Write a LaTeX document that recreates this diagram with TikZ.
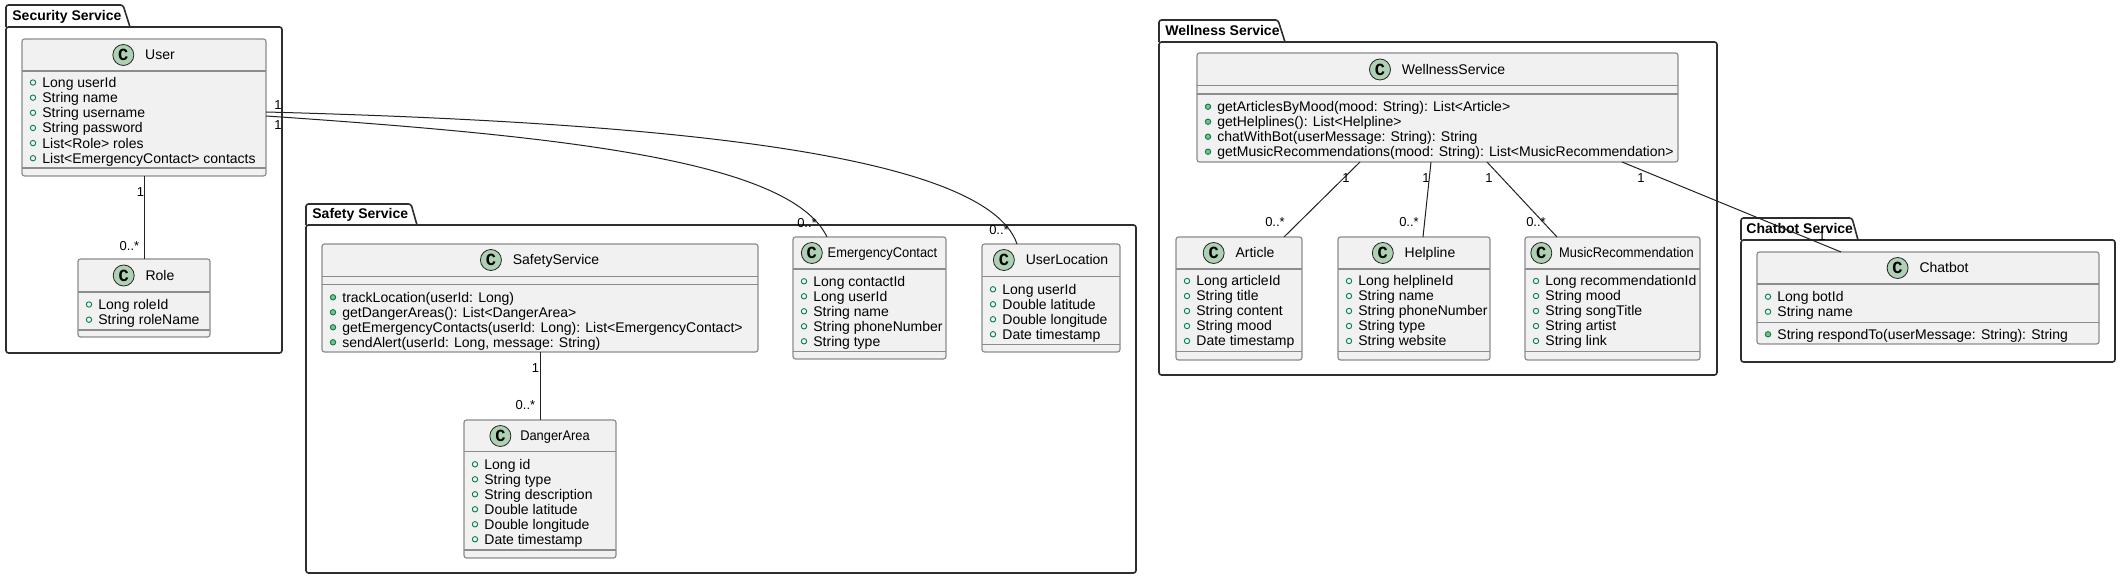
\documentclass[tikz,border=0pt]{standalone}
\usepackage{fontspec}
\setmainfont{Liberation Sans}
\newfontfamily\cfont{Liberation Mono}
\newfontfamily\condfont{Liberation Sans}[FakeStretch=0.92]
\usetikzlibrary{calc}
\definecolor{clsfill}{HTML}{F1F1F1}
\definecolor{clsdraw}{HTML}{8C8C8C}
\definecolor{cfill}{HTML}{ADD1B2}
\definecolor{visgreen}{HTML}{038048}
\definecolor{visfill}{HTML}{84BE84}
\definecolor{pkgdraw}{HTML}{2E2E2E}
\definecolor{edgecol}{HTML}{222222}
\newcounter{tn}
\tikzset{
 clsbox/.style={draw=clsdraw, fill=clsfill, line width=0.6pt, rounded corners=1.25pt, inner sep=0pt, outer sep=0pt},
 sepl/.style={draw=clsdraw, line width=0.6pt},
 mtext/.style={anchor=base west, inner sep=0pt, font=\fontsize{7}{8}\selectfont},
 hname/.style={inner sep=0pt, text height=5pt, text depth=0pt, font=\fontsize{7}{8}\selectfont},
 cball/.style={circle, draw=edgecol, fill=cfill, line width=0.4pt, minimum size=10.5pt, inner sep=0pt, font=\cfont\bfseries\fontsize{8.5}{9}\selectfont},
 pkgline/.style={draw=pkgdraw, line width=0.8pt, rounded corners=1.25pt},
 pkglabel/.style={anchor=base west, inner sep=0pt, font=\bfseries\fontsize{7}{8}\selectfont},
 conn/.style={draw=edgecol, line width=0.5pt},
 mult/.style={inner sep=0pt, text height=4.6pt, text depth=0pt, font=\fontsize{6.5}{7}\selectfont},
}
% class box: name, x1, y1, x2, y2 (pixel units)
\newcommand{\umlclass}[5]{%
 \pgfmathsetmacro{\clsW}{(#4-#2)*0.5}%
 \pgfmathsetmacro{\clsH}{(#5-#3)*0.5}%
 \node[clsbox, minimum width=\clsW pt, minimum height=\clsH pt] (#1) at ({(#2+#4)/2},{(#3+#5)/2}) {};%
}
\newcommand{\csep}[3]{\draw[sepl] (#1,#3) -- (#2,#3);}
% header: name, cx, cy, space, text
\newcommand{\hdr}[5]{%
 \node[hname] (#1) at (#2,#3) {\hspace*{#4}#5};%
 \node[cball] (#1c) at ($(#1.west)+(10.5,0)$) {C};%
}
\newcommand{\fld}[3]{%
 \stepcounter{tn}%
 \draw[visgreen, line width=0.45pt] (#1+11,#2) circle (1.35pt);%
 \node[mtext] (t\arabic{tn}) at (#1+20,#2+5) {#3};%
}
\newcommand{\mth}[3]{%
 \stepcounter{tn}%
 \draw[visgreen, fill=visfill, line width=0.45pt] (#1+11,#2) circle (1.35pt);%
 \node[mtext] (t\arabic{tn}) at (#1+20,#2+5) {#3};%
}
\newcommand{\mlab}[4]{\node[mult] (#1) at (#2,#3) {#4};}
\begin{document}
\begin{tikzpicture}[x=0.5pt,y=-0.5pt]
\useasboundingbox (0,0) rectangle (2122,581);
\fill[white] (0,0) rectangle (2122,581);

% ---------- packages ----------
\draw[pkgline] (6,27) -- (6,5) -- (123,5) -- (130,27);
\draw[pkgline] (6,27) rectangle (282,353);
\node[pkglabel] (secl) at (12,21) {Security Service};

\draw[pkgline] (306,225) -- (306,204) -- (411,204) -- (417,225);
\draw[pkgline] (306,225) rectangle (1136,573);
\node[pkglabel] (safl) at (312,219) {Safety Service};

\draw[pkgline] (1159,42) -- (1159,20) -- (1278,20) -- (1285,42);
\draw[pkgline] (1159,42) rectangle (1717,375);
\node[pkglabel] (welll) at (1165,36) {Wellness Service};

\draw[pkgline] (1741,240) -- (1741,218) -- (1852,218) -- (1858,240);
\draw[pkgline] (1741,240) rectangle (2115,362);
\node[pkglabel] (chatl) at (1746,234) {Chatbot Service};

% ---------- User ----------
\umlclass{user}{22}{39}{266}{176}
\csep{22}{266}{71}\csep{22}{266}{168}
\hdr{userh}{144}{55}{16pt}{User}
\fld{22}{82.5}{Long userId}
\fld{22}{97.65}{String name}
\fld{22}{112.8}{String username}
\fld{22}{127.95}{String password}
\fld{22}{143.1}{List<Role> roles}
\fld{22}{158.25}{List<EmergencyContact> contacts}

% ---------- Role ----------
\umlclass{role}{78}{259}{210}{337}
\csep{78}{210}{292}\csep{78}{210}{330}
\hdr{roleh}{144}{275.5}{16pt}{Role}
\fld{78}{304.5}{Long roleId}
\fld{78}{319.7}{String roleName}

% ---------- SafetyService ----------
\umlclass{ss}{322}{244}{758}{352}
\csep{322}{758}{276.3}\csep{322}{758}{284.3}
\hdr{ssh}{540}{260}{16pt}{SafetyService}
\mth{322}{297.3}{trackLocation(userId: Long)}
\mth{322}{312.3}{getDangerAreas(): List<DangerArea>}
\mth{322}{327.3}{getEmergencyContacts(userId: Long): List<EmergencyContact>}
\mth{322}{342.3}{sendAlert(userId: Long, message: String)}

% ---------- DangerArea ----------
\umlclass{da}{464}{420}{616}{558}
\csep{464}{616}{451.7}\csep{464}{616}{550}
\hdr{dah}{540}{436}{15pt}{\condfont DangerArea}
\fld{464}{464.3}{Long id}
\fld{464}{479.3}{String type}
\fld{464}{494.3}{String description}
\fld{464}{509.3}{Double latitude}
\fld{464}{524.3}{Double longitude}
\fld{464}{539.3}{Date timestamp}

% ---------- EmergencyContact ----------
\umlclass{ec}{793}{237}{946}{359}
\csep{793}{946}{269}\csep{793}{946}{351.7}
\hdr{ech}{869.5}{253}{13pt}{\condfont EmergencyContact}
\fld{793}{281.3}{Long contactId}
\fld{793}{296.3}{Long userId}
\fld{793}{311.3}{String name}
\fld{793}{326.3}{String phoneNumber}
\fld{793}{341.3}{String type}

% ---------- UserLocation ----------
\umlclass{uloc}{982}{244}{1120}{352}
\csep{982}{1120}{276.3}\csep{982}{1120}{344.3}
\hdr{ulh}{1051}{260}{16pt}{UserLocation}
\fld{982}{289.3}{Long userId}
\fld{982}{304.3}{Double latitude}
\fld{982}{319.3}{Double longitude}
\fld{982}{334.3}{Date timestamp}

% ---------- WellnessService ----------
\umlclass{ws}{1197}{53}{1678}{162}
\csep{1197}{1678}{85.7}\csep{1197}{1678}{94}
\hdr{wsh}{1437.5}{69.5}{16pt}{WellnessService}
\mth{1197}{106.7}{getArticlesByMood(mood: String): List<Article>}
\mth{1197}{121.7}{getHelplines(): List<Helpline>}
\mth{1197}{136.7}{chatWithBot(userMessage: String): String}
\mth{1197}{151.7}{getMusicRecommendations(mood: String): List<MusicRecommendation>}

% ---------- Article ----------
\umlclass{art}{1176}{237}{1302}{360}
\csep{1176}{1302}{269}\csep{1176}{1302}{351.7}
\hdr{arth}{1239}{253}{16pt}{Article}
\fld{1176}{281}{Long articleId}
\fld{1176}{296}{String title}
\fld{1176}{311}{String content}
\fld{1176}{326}{String mood}
\fld{1176}{341}{Date timestamp}

% ---------- Helpline ----------
\umlclass{help}{1338}{237}{1490}{360}
\csep{1338}{1490}{269}\csep{1338}{1490}{351.7}
\hdr{helph}{1414}{253}{16pt}{Helpline}
\fld{1338}{281}{Long helplineId}
\fld{1338}{296}{String name}
\fld{1338}{311}{String phoneNumber}
\fld{1338}{326}{String type}
\fld{1338}{341}{String website}

% ---------- MusicRecommendation ----------
\umlclass{mr}{1525}{237}{1700}{360}
\csep{1525}{1700}{269}\csep{1525}{1700}{351.7}
\hdr{mrh}{1612.5}{253}{14pt}{\condfont MusicRecommendation}
\fld{1525}{281}{Long recommendationId}
\fld{1525}{296}{String mood}
\fld{1525}{311}{String songTitle}
\fld{1525}{326}{String artist}
\fld{1525}{341}{String link}

% ---------- Chatbot ----------
\umlclass{chat}{1757}{252}{2099}{344}
\csep{1757}{2099}{284}\csep{1757}{2099}{322.3}
\hdr{chath}{1928}{268}{16pt}{Chatbot}
\fld{1757}{296.7}{Long botId}
\fld{1757}{311.7}{String name}
\mth{1757}{334.3}{String respondTo(userMessage: String): String}

% ---------- connectors ----------
\draw[conn] (user.south) -- (role.north);
\draw[conn] (ss.south) -- (da.north);
\draw[conn] ($(user.east)+(0,4.5)$) .. controls (640,122) and (985,150) .. ($(uloc.north)+(-34,0)$);
\draw[conn] ($(user.east)+(0,8.5)$) .. controls (560,136) and (790,160) .. ($(ec.north)+(-42.5,0)$);
\draw[conn] ($(ws.south)+(-77.5,0)$) -- ($(art.north)+(45,0)$);
\draw[conn] ($(ws.south)+(-6.5,0)$) -- ($(help.north)+(9,0)$);
\draw[conn] ($(ws.south)+(49.5,0)$) -- ($(mr.north)+(-55.5,0)$);
\draw[conn] ($(ws.south)+(184.5,0)$) -- ($(chat.north)+(-87,0)$);

% ---------- multiplicities ----------
\mlab{m1}{140.5}{192}{1}
\mlab{m2}{129.5}{246}{0..*}
\mlab{m3}{535.5}{368}{1}
\mlab{m4}{525.5}{405}{0..*}
\mlab{m5}{278}{105}{1}
\mlab{m6}{278}{125}{1}
\mlab{m7}{807}{223}{0..*}
\mlab{m8}{999}{230}{0..*}
\mlab{m9}{1346}{177.5}{1}
\mlab{m10}{1426}{177.5}{1}
\mlab{m11}{1489}{177.5}{1}
\mlab{m12}{1641}{177.5}{1}
\mlab{m13}{1275}{222}{0..*}
\mlab{m14}{1409}{222}{0..*}
\mlab{m15}{1536}{222}{0..*}
\mlab{m16}{1822}{236}{1}
\end{tikzpicture}
\end{document}
